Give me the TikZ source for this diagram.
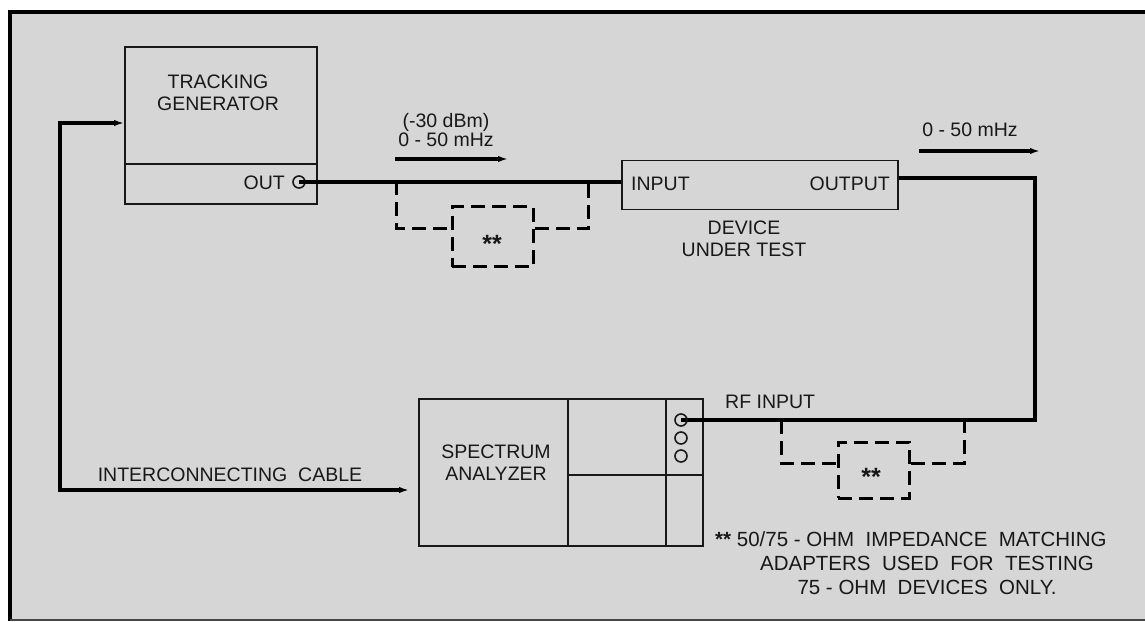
\documentclass[tikz,border=0pt]{standalone}
\usepackage{fontspec}
\setmainfont{Liberation Sans}
\usetikzlibrary{arrows.meta}
\definecolor{panel}{RGB}{214,214,214}
\definecolor{ink}{RGB}{24,24,24}
\begin{document}
\begin{tikzpicture}[x=1pt,y=-1pt,
  lbl/.style={font=\fontsize{19.5}{22}\selectfont, text=ink, inner sep=0pt},
  notelbl/.style={font=\fontsize{20.5}{24}\selectfont, text=ink, inner sep=0pt},
  starlbl/.style={font=\fontsize{25}{25}\selectfont\bfseries, text=ink, inner sep=0pt, anchor=base},
  box/.style={draw=ink, line width=1.9pt, inner sep=0pt},
  divline/.style={draw=ink, line width=1.9pt},
  cable/.style={draw=black, line width=3.3pt},
  adapt/.style={draw=black, line width=3pt, dash pattern=on 14pt off 7pt},
  port/.style={circle, draw=ink, line width=1.6pt, minimum size=12pt, inner sep=0pt},
  tip/.tip={Latex[length=10pt,width=6.5pt]},
  flow/.style={draw=black, line width=3.3pt, -tip}]
\useasboundingbox (0,0) rectangle (1145,621);
% frame
\fill[white] (0,0) rectangle (1145,621);
\fill[panel] (10,11) rectangle (1145,620);
\draw[line width=4pt] (8,11.5) -- (1145,11.5);
\draw[line width=4pt] (10,10) -- (10,621);
\draw[line width=1.5pt, ink!80] (10,619.8) -- (1145,619.8);

% coordinates
\coordinate (tgdiv) at (0,164);
\coordinate (c1) at (1035,178);
\coordinate (c2) at (1035,420);
\coordinate (k1) at (60,123);
\coordinate (k2) at (60,490);
\coordinate (sv1) at (568,0);
\coordinate (sv2) at (666,0);
\coordinate (sh) at (0,475);
\coordinate (a1) at (396,181);
\coordinate (a1d) at (396,228);
\coordinate (a2) at (588,181);
\coordinate (a2d) at (588,228);
\coordinate (b1) at (781,420);
\coordinate (b1d) at (781,463);
\coordinate (b2) at (964,420);
\coordinate (b2d) at (964,463);
\coordinate (f1s) at (395,159);
\coordinate (f1e) at (508,159);
\coordinate (f2s) at (919,151);
\coordinate (f2e) at (1040,151);

% tracking generator
\node[box, minimum width=192pt, minimum height=157pt] (tg) at (221,125.5) {};
\draw[divline] (tg.west |- tgdiv) -- (tg.east |- tgdiv);
\node[lbl, align=center] (tgl) at (218,93) {TRACKING\\GENERATOR};
\node[lbl, anchor=east] (outl) at (285,183) {OUT};
\node[port] (tgout) at (299,182) {};

% device under test
\node[box, minimum width=276pt, minimum height=49pt] (dut) at (760,185) {};
\node[lbl, anchor=west] (inl) at (631,184) {INPUT};
\node[lbl, anchor=east] (outpl) at (890,184) {OUTPUT};
\node[lbl, align=center] (dutcap) at (744,239) {DEVICE\\UNDER TEST};

% spectrum analyzer
\node[box, minimum width=284pt, minimum height=147pt] (sa) at (561,472.5) {};
\draw[divline] (sv1 |- sa.north) -- (sv1 |- sa.south);
\draw[divline] (sv2 |- sa.north) -- (sv2 |- sa.south);
\draw[divline] (sv1 |- sh) -- (sa.east |- sh);
\node[lbl, align=center] (sal) at (496,463) {SPECTRUM\\ANALYZER};

% cables
\draw[cable] (tgout.center) -- (tgout.center -| dut.west);
\coordinate (p1c) at (681,420);
\draw[cable] (dut.east |- c1) -- (c1) -- (c2) -- (p1c);
\node[port] (p1) at (p1c) {};
\node[port] (p2) at (681,438) {};
\node[port] (p3) at (681,456) {};
\draw[cable, tip-tip, shorten <=9pt] (sa.west |- k2) -- (k2) -- (k1) -- (tg.west |- k1);
\node[lbl] (cablel) at (230,475) {INTERCONNECTING\ \ CABLE};
\node[lbl, anchor=west] (rfl) at (725,402) {RF INPUT};

% adapter 1
\node[adapt, minimum width=81pt, minimum height=60pt] (ad1) at (492.5,236.5) {};
\node[starlbl] (ad1l) at (492,252) {**};
\draw[adapt] (a1) -- (a1d) -- (a1d -| ad1.west);
\draw[adapt] (ad1.east |- a2d) -- (a2d) -- (a2);

% adapter 2
\node[adapt, minimum width=71pt, minimum height=56pt] (ad2) at (873.5,470) {};
\node[starlbl] (ad2l) at (871,485) {**};
\draw[adapt] (b1) -- (b1d) -- (b1d -| ad2.west);
\draw[adapt] (ad2.east |- b2d) -- (b2d) -- (b2);

% signal arrows
\draw[flow] (f1s) -- (f1e);
\node[lbl] (f1a) at (446,122) {(-30 dBm)};
\node[lbl] (f1b) at (446,140) {0 - 50 mHz};
\draw[flow] (f2s) -- (f2e);
\node[lbl] (f2a) at (970,130) {0 - 50 mHz};

% note
\node[notelbl, anchor=west] (n1) at (715,539) {{\bfseries**}\ 50/75 - OHM\ \ IMPEDANCE\ \ MATCHING};
\node[notelbl] (n2) at (927,563) {ADAPTERS\ \ USED\ \ FOR\ \ TESTING};
\node[notelbl] (n3) at (927,587) {75 - OHM\ \ DEVICES\ \ ONLY.};
\end{tikzpicture}
\end{document}
